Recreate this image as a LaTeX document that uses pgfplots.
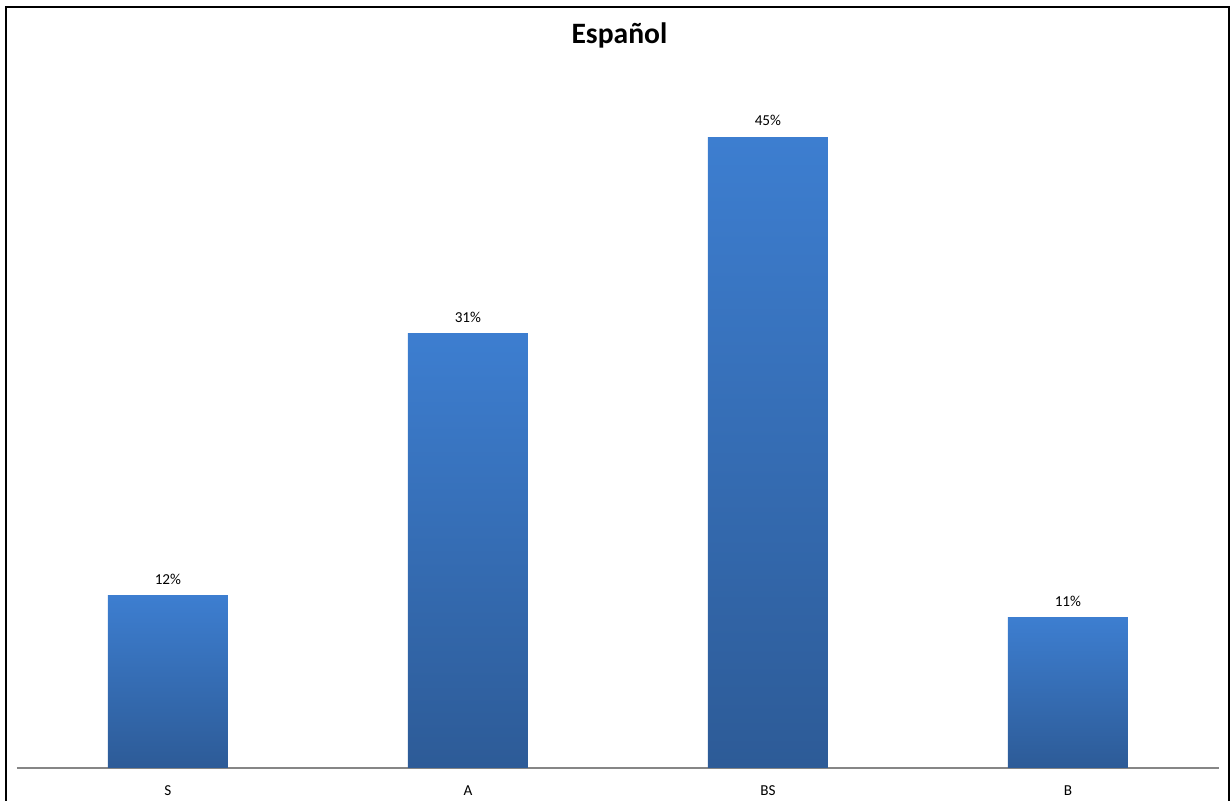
\documentclass[border=0pt]{standalone}
\usepackage{pgfplots}
\pgfplotsset{compat=1.18}
\usepackage{fontspec}
\setmainfont{Carlito}
\definecolor{bartop}{HTML}{3D7ED0}
\definecolor{barbot}{HTML}{2D5B97}
\definecolor{axgray}{HTML}{868686}
\begin{document}
\begin{tikzpicture}
\useasboundingbox (0,0) rectangle (615.5pt,400.5pt);
\draw[line width=1.3pt, black] (3pt,-2pt) -- (3pt,397pt) -- (614.5pt,397pt) -- (614.5pt,-2pt);
\node[font=\fontsize{14.8pt}{17pt}\selectfont\bfseries] at (309.7pt,383pt) {Español};
\begin{axis}[
  at={(8.5pt,16.5pt)}, anchor=south west,
  x=150pt,
  y=7.01pt,
  scale only axis,
  xmin=-0.503, xmax=3.503,
  ymin=0, ymax=50,
  axis x line*=bottom,
  hide y axis,
  x axis line style={axgray, line width=0.6pt, -},
  xtick={0,1,2,3},
  xticklabels={S,A,BS,B},
  xtick style={draw=none},
  xticklabel style={font=\fontsize{7.6pt}{9pt}\selectfont, yshift=-1pt},
  ytick=\empty,
  ybar,
  bar width=60pt,
  bar shift=0pt,
  /pgf/number format/assume math mode=true,
  nodes near coords={\pgfmathprintnumber[fixed,precision=0,assume math mode=true]{\pgfplotspointmeta}\%},
  every node near coord/.append style={font=\fontsize{7.6pt}{9pt}\selectfont, black, yshift=2pt},
  clip=false,
]
\addplot[draw=none, top color=bartop, bottom color=barbot, bar shift=0pt] coordinates {(0,12.3)};
\addplot[draw=none, top color=bartop, bottom color=barbot, bar shift=0pt] coordinates {(1,31.0)};
\addplot[draw=none, top color=bartop, bottom color=barbot, bar shift=0pt] coordinates {(2,45.0)};
\addplot[draw=none, top color=bartop, bottom color=barbot, bar shift=0pt] coordinates {(3,10.7)};
\end{axis}
\end{tikzpicture}
\end{document}
